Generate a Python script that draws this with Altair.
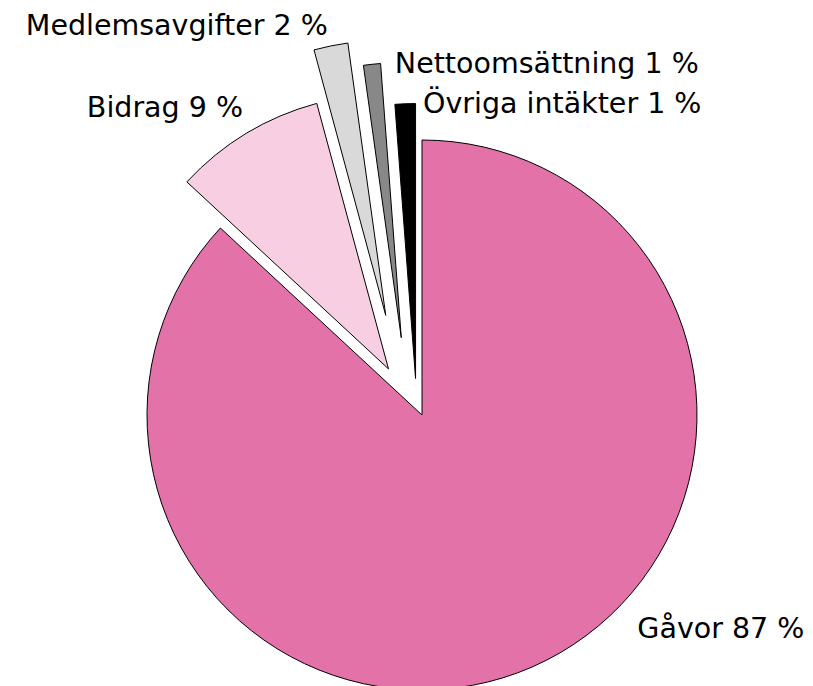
import altair as alt
import pandas as pd

# ---- data ----
categories = ["Gåvor", "Bidrag", "Medlemsavgifter", "Nettoomsättning", "Övriga intäkter"]
shares = [86.9, 8.9, 2.0, 1.0, 1.2]
colors = ["#e372a8", "#f8cfe2", "#d9d9d9", "#888888", "#000000"]

# ---- style (explode and label placement) ----
CX, CY, R = 414, 407, 275
explode_dist = {"Gåvor": 0, "Bidrag": 57, "Medlemsavgifter": 106, "Nettoomsättning": 80, "Övriga intäkter": 37}
explode_dir = {"Gåvor": 0, "Bidrag": 324, "Medlemsavgifter": 340, "Nettoomsättning": 345, "Övriga intäkter": 350}
label_r = {"Gåvor": 310, "Bidrag": 291, "Medlemsavgifter": 286, "Nettoomsättning": 265, "Övriga intäkter": 266}
label_dir = {"Gåvor": 136, "Bidrag": 330, "Medlemsavgifter": 348.3, "Nettoomsättning": 358.6, "Övriga intäkter": 1.6}
label_align = {"Gåvor": "left", "Bidrag": "right", "Medlemsavgifter": "right", "Nettoomsättning": "left", "Övriga intäkter": "left"}
FONT = "DejaVu Sans"
FS = 28.5

df = pd.DataFrame({"cat": categories, "value": shares, "order": list(range(len(categories)))})
df["ed"] = df["cat"].map(explode_dist)
df["edir"] = df["cat"].map(explode_dir)
df["lr"] = df["cat"].map(label_r)
df["ldir"] = df["cat"].map(label_dir)
df["al"] = df["cat"].map(label_align)

base = alt.Chart(df).transform_joinaggregate(
    total="sum(value)"
).transform_window(
    cum="sum(value)", sort=[alt.SortField("order")], frame=[None, 0]
).transform_calculate(
    t1="datum.cum / datum.total * 2 * PI",
    t0="(datum.cum - datum.value) / datum.total * 2 * PI",
    px=f"{CX} + datum.ed * sin(datum.edir * PI / 180)",
    py=f"{CY} - datum.ed * cos(datum.edir * PI / 180)",
    lt="datum.ldir * PI / 180",
    label="datum.cat + ' ' + format(datum.value, '.0f') + ' %'",
)

pie = base.mark_arc(stroke="black", strokeWidth=1).encode(
    x=alt.X("px:Q", scale=None),
    y=alt.Y("py:Q", scale=None),
    theta=alt.Theta("t0:Q", scale=None),
    theta2="t1:Q",
    radius=alt.value(R),
    color=alt.Color("cat:N", scale=alt.Scale(domain=categories, range=colors), legend=None),
)

def labels(align):
    return base.transform_filter(f"datum.al == '{align}'").mark_text(
        align=align, baseline="alphabetic", font=FONT, fontSize=FS, color="black"
    ).encode(
        x=alt.X("px:Q", scale=None),
        y=alt.Y("py:Q", scale=None),
        theta=alt.Theta("lt:Q", scale=None),
        radius=alt.Radius("lr:Q", scale=None),
        text="label:N",
    )

chart = alt.layer(pie, labels("left"), labels("right")).properties(
    width=797, height=678, padding=0, autosize=alt.AutoSizeParams(type="none")
).configure_view(stroke=None)

chart.save("out.html", embed_options={"renderer": "svg", "actions": False})
